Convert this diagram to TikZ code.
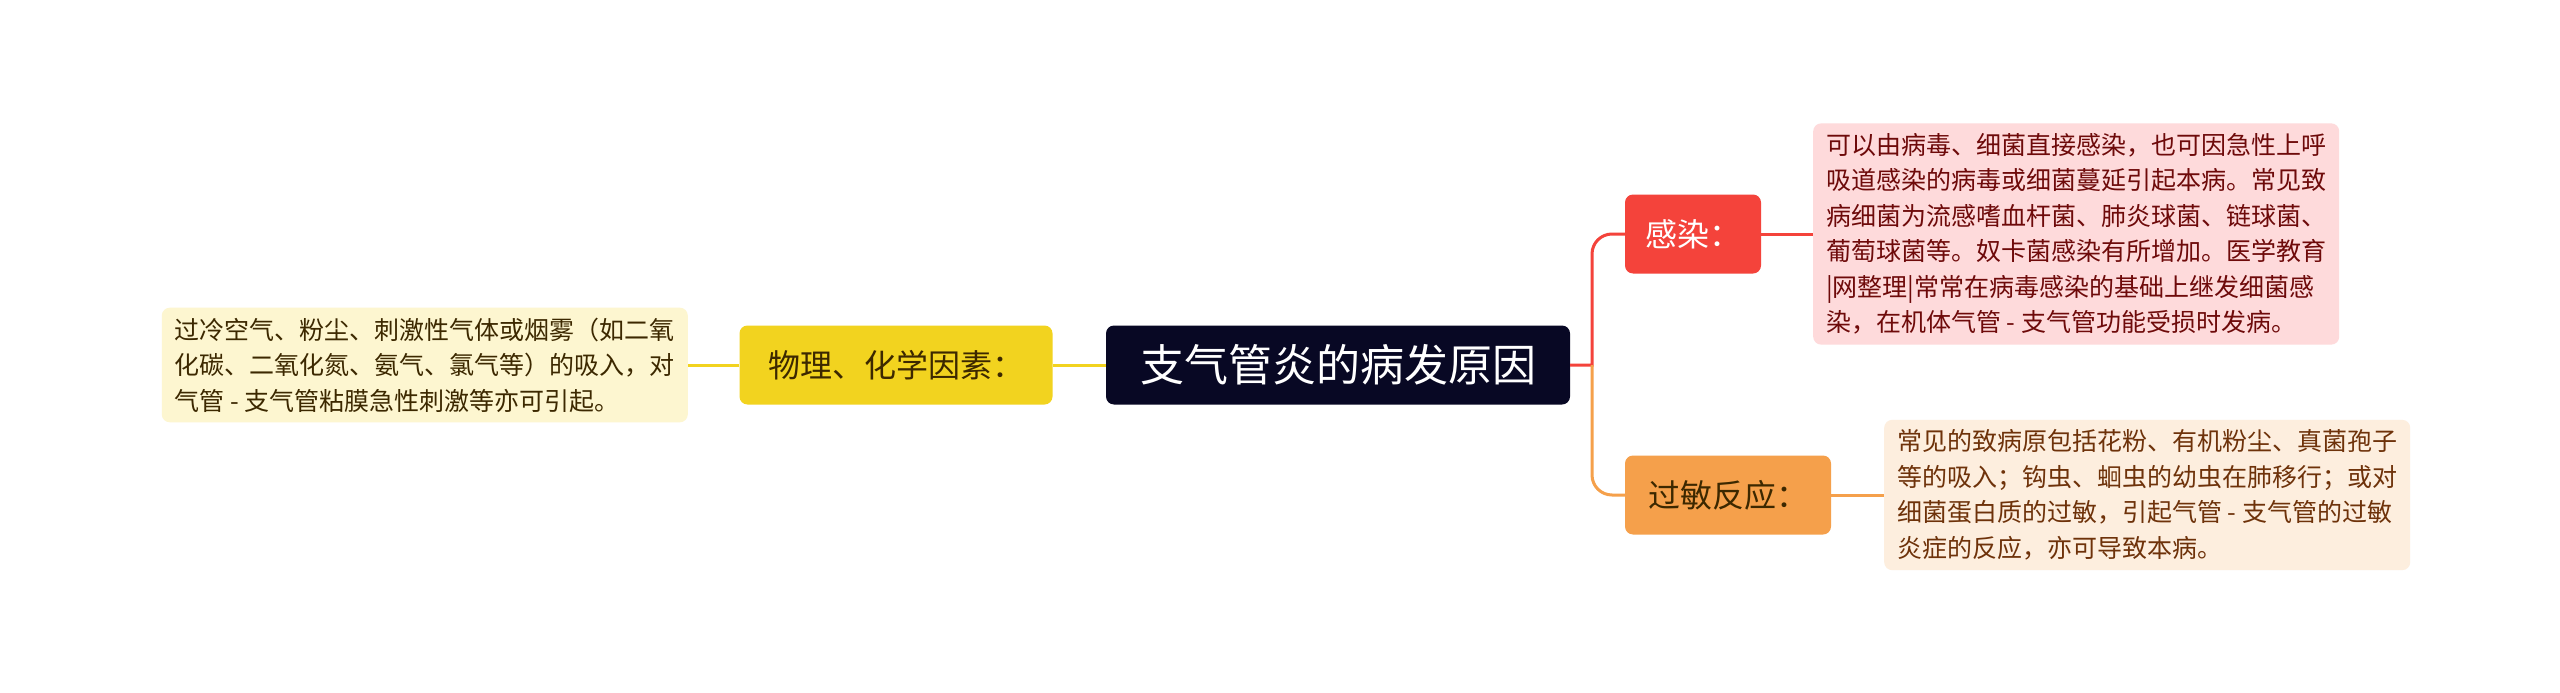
\documentclass[tikz,border=0pt]{standalone}
\usepackage{fontspec}
\setmainfont{Noto Sans CJK SC}
\definecolor{cnav}{RGB}{8,8,36}
\definecolor{cyel}{RGB}{242,211,31}
\definecolor{cyelt}{RGB}{253,246,208}
\definecolor{cred}{RGB}{244,67,59}
\definecolor{credt}{RGB}{254,218,219}
\definecolor{cora}{RGB}{245,160,75}
\definecolor{corat}{RGB}{253,238,222}
\definecolor{tbrown}{RGB}{60,40,0}
\definecolor{tred}{RGB}{110,10,10}
\definecolor{tora}{RGB}{110,50,10}
\begin{document}
\begin{tikzpicture}[x=1pt,y=-1pt,
 box/.style={rounded corners=8pt,minimum height=79pt,inner sep=0pt},
 txt/.style={rounded corners=8pt,align=left,inner xsep=13pt,inner ysep=10pt,font=\fontsize{25}{35.5}\selectfont},
 lk/.style={line width=3pt}]
\useasboundingbox[fill=white] (0,0) rectangle (2560,693);
\node[box,fill=cnav,text=white,minimum width=464pt,font=\fontsize{44}{50}\selectfont] (c) at (1338,365) {支气管炎的病发原因};
\node[box,fill=cyel,minimum width=313pt,text=tbrown,font=\fontsize{32}{38}\selectfont] (p) at (896,365) {物理、化学因素：};
\node[txt,fill=cyelt,text=tbrown,anchor=east] (pt) at (688,365) {过冷空气、粉尘、刺激性气体或烟雾（如二氧\\化碳、二氧化氮、氨气、氯气等）的吸入，对\\气管 - 支气管粘膜急性刺激等亦可引起。};
\node[box,fill=cred,text=white,minimum width=136pt,font=\fontsize{32}{38}\selectfont] (g) at (1693,234) {感染：};
\node[txt,fill=credt,text=tred,anchor=west] (gt) at (1813,234) {可以由病毒、细菌直接感染，也可因急性上呼\\吸道感染的病毒或细菌蔓延引起本病。常见致\\病细菌为流感嗜血杆菌、肺炎球菌、链球菌、\\葡萄球菌等。奴卡菌感染有所增加。医学教育\\|网整理|常常在病毒感染的基础上继发细菌感\\染，在机体气管 - 支气管功能受损时发病。};
\node[box,fill=cora,text=tbrown,minimum width=206pt,font=\fontsize{32}{38}\selectfont] (a) at (1728,495) {过敏反应：};
\node[txt,fill=corat,text=tora,anchor=west] (at) at (1884,495) {常见的致病原包括花粉、有机粉尘、真菌孢子\\等的吸入；钩虫、蛔虫的幼虫在肺移行；或对\\细菌蛋白质的过敏，引起气管 - 支气管的过敏\\炎症的反应，亦可导致本病。};
\coordinate (j) at (1592,365);
\draw[lk,cyel] (c.west) -- (p.east);
\draw[lk,cyel] (p.west) -- (pt.east);
\draw[lk,cred] (c.east) -- (j) [rounded corners=20pt] -- (j |- g.west) -- (g.west);
\draw[lk,cora] (j) [rounded corners=20pt] -- (j |- a.west) -- (a.west);
\draw[lk,cred] (g.east) -- (gt.west);
\draw[lk,cora] (a.east) -- (at.west);
\end{tikzpicture}
\end{document}
